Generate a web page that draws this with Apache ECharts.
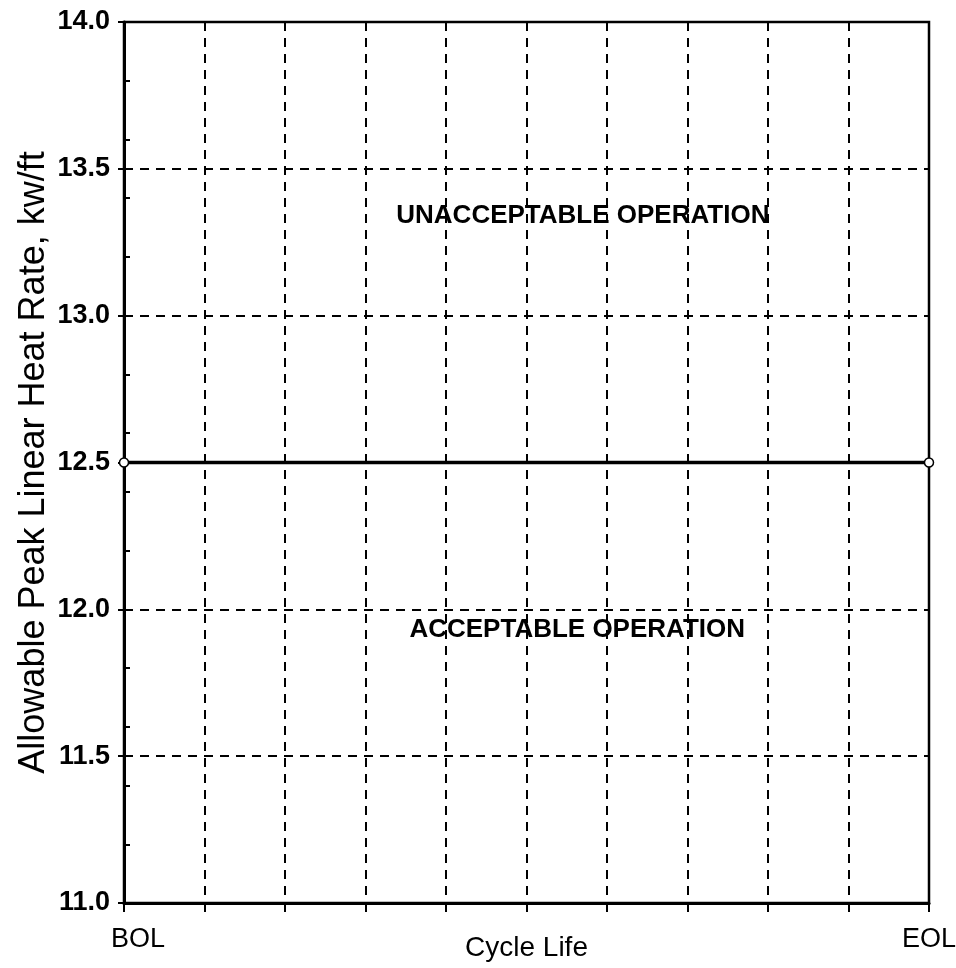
<!DOCTYPE html>
<html>
<head>
<meta charset="utf-8">
<script src="https://cdn.jsdelivr.net/npm/echarts@6/dist/echarts.min.js"></script>
<style>
html,body{margin:0;padding:0;background:#fff;overflow:hidden;}
#chart{width:956px;height:968px;}
</style>
</head>
<body>
<div id="chart"></div>
<script>
// ---- data ----
var xTickLabels = ['BOL','','','','','','','','','','EOL'];
var yTickValues = [11.0, 11.5, 12.0, 12.5, 13.0, 13.5, 14.0];
var limitX = [0, 10];
var limitY = [12.5, 12.5];
var regionLabels = ['UNACCEPTABLE OPERATION', 'ACCEPTABLE OPERATION'];
var regionLabelX = [5.70, 5.63];
var regionLabelY = [13.34, 11.93];
var xAxisTitle = 'Cycle Life';
var yAxisTitle = 'Allowable Peak Linear Heat Rate, kw/ft';

var chart = echarts.init(document.getElementById('chart'));
var dashed = {color:'#000', width:2, type:[9,7]};
var fontMain = '"Liberation Sans", Arial, sans-serif';

var option = {
  backgroundColor:'#fff',
  animation:false,
  grid:{left:124, right:27, top:22, bottom:65, show:true, borderColor:'#000', borderWidth:2.5,
        containLabel:false, outerBoundsMode:'none'},
  xAxis:{
    type:'value', min:0, max:10, interval:1,
    name:xAxisTitle, nameLocation:'middle', nameGap:31, nameMoveOverlap:false,
    nameTextStyle:{fontFamily:fontMain, fontSize:28, color:'#000'},
    axisLine:{show:true, lineStyle:{color:'#000', width:3}},
    axisTick:{show:true, inside:false, length:9, lineStyle:{color:'#000', width:2}},
    axisLabel:{
      show:true, margin:23, color:'#000', fontFamily:fontMain, fontSize:27,
      formatter:function(v){
        var s = xTickLabels[Math.round(v)] || '';
        if (Math.round(v) === 0) return '{l|' + s + '}';
        return s;
      },
      rich:{l:{fontFamily:fontMain, fontSize:27, color:'#000', padding:[0,0,0,28]}}
    },
    splitLine:{show:true, lineStyle:dashed}
  },
  yAxis:[{
    type:'value', min:11, max:14, interval:0.5,
    name:yAxisTitle, nameLocation:'middle', nameGap:72, nameRotate:90, nameMoveOverlap:false,
    nameTextStyle:{fontFamily:fontMain, fontSize:36, color:'#000'},
    axisLine:{show:true, lineStyle:{color:'#000', width:3}},
    axisTick:{show:true, inside:false, length:6, lineStyle:{color:'#000', width:2}},
    axisLabel:{show:true, margin:14, color:'#000', fontFamily:fontMain, fontSize:27, fontWeight:'bold',
      formatter:function(v){ return v.toFixed(1); }},
    splitLine:{show:true, lineStyle:dashed}
  },{
    type:'value', min:11, max:14, interval:0.2, position:'left',
    axisLine:{show:false},
    axisTick:{show:true, inside:true, length:6, lineStyle:{color:'#000', width:2}},
    axisLabel:{show:false},
    splitLine:{show:false}
  }],
  series:[{
    type:'line',
    yAxisIndex:0,
    data:limitX.map(function(x,i){return [x, limitY[i]];}),
    symbol:'circle', symbolSize:9,
    itemStyle:{color:'#fff', borderColor:'#000', borderWidth:1.5},
    lineStyle:{color:'#000', width:3.5},
    z:5
  },{
    type:'scatter',
    yAxisIndex:0,
    symbolSize:0,
    silent:true,
    itemStyle:{opacity:1},
    data:regionLabels.map(function(t,i){return {value:[regionLabelX[i], regionLabelY[i]], name:t};}),
    label:{show:true, position:'inside', color:'#000', opacity:1, fontFamily:fontMain, fontSize:26, fontWeight:'bold',
      formatter:function(p){return p.name;}},
    z:6
  }]
};
chart.setOption(option);
</script>
</body>
</html>
